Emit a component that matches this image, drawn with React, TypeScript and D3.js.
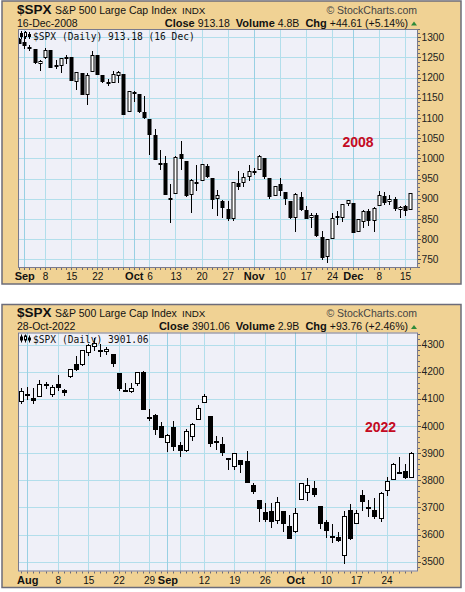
import React from 'react';
import * as d3 from 'd3';

// ---------- 2008 data (Aug 29 .. Dec 16, 2008) ----------
const dates2008 = [
  '2008-08-29','2008-09-02','2008-09-03','2008-09-04','2008-09-05','2008-09-08','2008-09-09','2008-09-10','2008-09-11','2008-09-12',
  '2008-09-15','2008-09-16','2008-09-17','2008-09-18','2008-09-19','2008-09-22','2008-09-23','2008-09-24','2008-09-25','2008-09-26',
  '2008-09-29','2008-09-30','2008-10-01','2008-10-02','2008-10-03','2008-10-06','2008-10-07','2008-10-08','2008-10-09','2008-10-10',
  '2008-10-13','2008-10-14','2008-10-15','2008-10-16','2008-10-17','2008-10-20','2008-10-21','2008-10-22','2008-10-23','2008-10-24',
  '2008-10-27','2008-10-28','2008-10-29','2008-10-30','2008-10-31','2008-11-03','2008-11-04','2008-11-05','2008-11-06','2008-11-07',
  '2008-11-10','2008-11-11','2008-11-12','2008-11-13','2008-11-14','2008-11-17','2008-11-18','2008-11-19','2008-11-20','2008-11-21',
  '2008-11-24','2008-11-25','2008-11-26','2008-11-28','2008-12-01','2008-12-02','2008-12-03','2008-12-04','2008-12-05','2008-12-08',
  '2008-12-09','2008-12-10','2008-12-11','2008-12-12','2008-12-15','2008-12-16'];
const open2008 = [
  1296.49,1287.83,1276.61,1271.80,1233.21,1249.50,1267.98,1227.50,1229.04,1245.88,
  1250.92,1188.31,1210.34,1157.08,1213.11,1255.37,1207.61,1188.79,1185.87,1204.47,
  1209.07,1113.78,1164.17,1160.64,1115.16,1097.56,1057.60,988.91,988.42,902.31,
  912.75,1009.97,994.60,909.53,942.29,943.51,980.40,951.67,899.08,895.22,
  874.28,848.92,939.51,939.38,953.11,968.67,971.31,1001.84,952.40,907.44,
  936.75,917.15,893.39,853.13,904.36,873.23,852.34,859.03,805.87,755.84,
  801.20,853.40,852.90,886.89,888.61,817.94,843.60,869.75,844.43,882.71,
  906.48,892.17,898.35,871.79,881.07,871.53];
const high2008 = [
  1297.59,1303.04,1280.60,1271.80,1244.94,1274.42,1268.66,1243.90,1249.98,1255.09,
  1250.92,1214.84,1210.34,1211.14,1265.12,1255.37,1207.61,1197.41,1215.77,1215.77,
  1209.07,1168.03,1167.03,1160.64,1153.82,1097.56,1072.91,1021.06,1005.25,936.36,
  1006.93,1044.31,994.60,947.71,984.64,985.40,985.44,951.67,922.83,896.30,
  893.78,940.51,969.97,963.23,984.38,975.57,1007.51,1001.84,952.40,931.46,
  951.95,917.15,893.39,913.01,916.88,882.29,865.90,864.57,820.52,801.20,
  865.60,868.94,887.68,896.25,888.61,850.54,873.12,875.60,879.42,918.57,
  916.26,908.27,904.63,883.24,884.63,914.66];
const low2008 = [
  1282.74,1272.20,1265.59,1232.83,1217.23,1247.12,1224.51,1221.60,1211.54,1233.81,
  1192.70,1169.28,1155.88,1133.50,1213.11,1205.61,1187.60,1179.79,1185.87,1187.54,
  1106.39,1113.78,1140.77,1111.43,1098.14,1007.97,996.23,970.97,909.19,839.80,
  912.75,972.07,903.99,865.83,918.74,943.51,952.47,875.81,858.44,852.85,
  845.75,845.27,922.26,928.50,944.59,958.82,971.31,949.86,899.73,906.90,
  907.47,884.90,850.48,818.69,869.88,848.98,826.84,806.18,747.78,741.02,
  801.20,834.99,841.37,881.21,815.69,817.94,827.60,833.60,818.41,882.71,
  885.38,885.45,868.73,851.35,857.72,871.53];
const close2008 = [
  1282.83,1277.58,1274.98,1236.83,1242.31,1267.79,1224.51,1232.04,1249.05,1251.70,
  1192.70,1213.60,1156.39,1206.51,1255.08,1207.09,1188.22,1185.87,1209.18,1213.27,
  1106.39,1166.36,1161.06,1114.28,1099.23,1056.89,996.23,984.94,909.92,899.22,
  1003.35,998.01,907.84,946.43,940.55,985.40,955.05,896.78,908.11,876.77,
  848.92,940.51,930.09,954.09,968.75,966.30,1005.75,952.77,904.88,930.99,
  919.21,898.95,852.30,911.29,873.29,850.75,859.12,806.58,752.44,800.03,
  851.81,857.39,887.68,896.24,816.21,848.81,870.74,845.22,876.07,909.70,
  888.67,899.24,873.59,879.73,868.57,913.18];
const yTicks2008 = [750, 800, 850, 900, 950, 1000, 1050, 1100, 1150, 1200, 1250, 1300];
const xTicks2008: [string, string][] = [
  ['2008-09-02', 'Sep'], ['2008-09-08', '8'], ['2008-09-15', '15'], ['2008-09-22', '22'],
  ['2008-10-01', 'Oct'], ['2008-10-06', '6'], ['2008-10-13', '13'], ['2008-10-20', '20'], ['2008-10-27', '27'],
  ['2008-11-03', 'Nov'], ['2008-11-10', '10'], ['2008-11-17', '17'], ['2008-11-24', '24'],
  ['2008-12-01', 'Dec'], ['2008-12-08', '8'], ['2008-12-15', '15']];

// ---------- 2022 data (Jul 29 .. Oct 28, 2022) ----------
const dates2022 = [
  '2022-07-29','2022-08-01','2022-08-02','2022-08-03','2022-08-04','2022-08-05','2022-08-08','2022-08-09','2022-08-10','2022-08-11',
  '2022-08-12','2022-08-15','2022-08-16','2022-08-17','2022-08-18','2022-08-19','2022-08-22','2022-08-23','2022-08-24','2022-08-25',
  '2022-08-26','2022-08-29','2022-08-30','2022-08-31','2022-09-01','2022-09-02','2022-09-06','2022-09-07','2022-09-08','2022-09-09',
  '2022-09-12','2022-09-13','2022-09-14','2022-09-15','2022-09-16','2022-09-19','2022-09-20','2022-09-21','2022-09-22','2022-09-23',
  '2022-09-26','2022-09-27','2022-09-28','2022-09-29','2022-09-30','2022-10-03','2022-10-04','2022-10-05','2022-10-06','2022-10-07',
  '2022-10-10','2022-10-11','2022-10-12','2022-10-13','2022-10-14','2022-10-17','2022-10-18','2022-10-19','2022-10-20','2022-10-21',
  '2022-10-24','2022-10-25','2022-10-26','2022-10-27','2022-10-28'];
const open2022 = [
  4087.33,4112.38,4104.21,4107.96,4154.85,4115.87,4155.93,4133.11,4181.02,4227.40,
  4225.02,4269.37,4290.46,4280.40,4273.13,4266.31,4195.08,4133.09,4126.55,4153.26,
  4198.74,4034.58,4041.25,4000.67,3936.73,3994.66,3930.89,3909.43,3959.94,4022.94,
  4083.67,4037.12,3940.73,3932.41,3880.95,3849.91,3875.23,3871.40,3782.36,3727.14,
  3682.72,3686.44,3651.94,3687.01,3633.48,3609.78,3726.46,3753.25,3771.97,3706.74,
  3647.51,3595.86,3590.83,3520.37,3690.41,3638.65,3746.26,3703.11,3689.05,3657.10,
  3762.01,3799.44,3825.97,3834.69,3808.26];
const high2022 = [
  4140.15,4144.95,4140.47,4167.66,4161.29,4151.58,4186.62,4137.30,4211.03,4257.91,
  4280.47,4301.79,4325.28,4302.18,4292.53,4266.31,4195.08,4159.77,4156.56,4200.54,
  4203.04,4062.99,4044.98,4015.37,3970.23,4018.43,3942.55,3987.89,4010.50,4076.81,
  4119.28,4037.12,3961.94,3959.14,3880.95,3900.45,3876.01,3907.07,3790.20,3727.14,
  3715.67,3717.53,3736.74,3687.01,3671.44,3698.35,3791.92,3806.91,3797.93,3706.74,
  3652.17,3640.66,3608.34,3685.41,3712.00,3689.73,3762.79,3728.58,3736.00,3757.89,
  3810.74,3862.85,3886.15,3859.95,3905.42];
const low2022 = [
  4079.22,4096.02,4079.81,4107.96,4135.42,4107.31,4128.97,4112.09,4177.26,4201.41,
  4219.78,4256.90,4277.77,4253.08,4261.98,4218.70,4129.86,4124.03,4119.97,4147.59,
  4057.66,4017.42,3965.21,3954.53,3903.65,3906.21,3886.75,3906.03,3944.81,4022.94,
  4083.67,3921.58,3912.90,3888.28,3837.08,3838.50,3827.54,3789.49,3749.45,3647.47,
  3644.76,3623.29,3640.61,3610.40,3584.13,3604.93,3726.46,3722.66,3739.22,3620.73,
  3588.10,3568.45,3573.86,3491.58,3579.68,3638.65,3686.53,3666.51,3656.44,3647.42,
  3741.65,3799.44,3824.07,3803.79,3808.26];
const close2022 = [
  4130.29,4118.63,4091.19,4155.17,4151.94,4145.19,4140.06,4122.47,4210.24,4207.27,
  4280.15,4297.14,4305.20,4274.04,4283.74,4228.48,4137.99,4128.73,4140.77,4199.12,
  4057.66,4030.61,3986.16,3955.00,3966.85,3924.26,3908.19,3979.87,4006.18,4067.36,
  4110.41,3932.69,3946.01,3901.35,3873.33,3899.89,3855.93,3789.93,3757.99,3693.23,
  3655.04,3647.29,3719.04,3640.47,3585.62,3678.43,3790.93,3783.28,3744.52,3639.66,
  3612.39,3588.84,3577.03,3669.91,3583.07,3677.95,3719.98,3695.16,3665.78,3752.75,
  3797.34,3859.11,3830.60,3807.30,3901.06];
const yTicks2022 = [3500, 3600, 3700, 3800, 3900, 4000, 4100, 4200, 4300];
const xTicks2022: [string, string][] = [
  ['2022-08-01', 'Aug'], ['2022-08-08', '8'], ['2022-08-15', '15'], ['2022-08-22', '22'], ['2022-08-29', '29'],
  ['2022-09-01', 'Sep'], ['2022-09-12', '12'], ['2022-09-19', '19'], ['2022-09-26', '26'],
  ['2022-10-03', 'Oct'], ['2022-10-10', '10'], ['2022-10-17', '17'], ['2022-10-24', '24']];

const SANS = '"Liberation Sans", Arial, sans-serif';
const MONO = '"DejaVu Sans Mono", monospace';
const BEIGE = '#f0d294';
const PLOT_BG = '#eff0f8';
const GRID = '#b2deeb';
const GRID_MONTH = '#98d0e3';

type PanelProps = {
  id: string;
  py: number;
  dates: string[];
  open: number[];
  high: number[];
  low: number[];
  close: number[];
  yTicks: number[];
  yMinor: number;
  xTicks: [string, string][];
  xDomain: [number, number];
  yDomain: [number, number];
  bodyW: number;
  dateStr: string;
  closeStr: string;
  volStr: string;
  chgStr: string;
  plotTitle: string;
  year: string;
  yearX: number;
  yearY: number;
};

function Panel(p: PanelProps) {
  const L = 18, R = 418;
  const T = p.py + 28, B = p.py + 267;
  const x = d3.scaleLinear().domain(p.xDomain).range([L, R]);
  const y = d3.scaleLinear().domain(p.yDomain).range([B, T]);
  const parse = (s: string) => new Date(s + 'T00:00:00Z');
  const ds = p.dates.map(parse);

  const weekLines: number[] = [];
  const monthLines: number[] = [];
  ds.forEach((d, i) => {
    if (i === 0) return;
    const prev = ds[i - 1];
    if (d.getUTCMonth() !== prev.getUTCMonth()) monthLines.push(i);
    else if (d.getUTCDay() <= prev.getUTCDay() || (d.getTime() - prev.getTime()) > 3 * 864e5) weekLines.push(i);
  });
  const idxOf = (s: string) => p.dates.indexOf(s);
  const minorY = d3.range(Math.ceil(p.yDomain[0] / p.yMinor) * p.yMinor, p.yDomain[1], p.yMinor);
  const px = (i: number) => Math.round(x(i));

  return (
    <g>
      <rect x={2} y={p.py} width={459} height={283} fill={BEIGE} stroke="#6c6c7a" strokeWidth={1.5} />
      {/* header */}
      <text x={17} y={p.py + 12.5} fontFamily={SANS} fontSize={13.5} fontWeight="bold" fill="#111">$SPX</text>
      <text x={55} y={p.py + 12.5} fontFamily={SANS} fontSize={10.5} fill="#111">S&amp;P 500 Large Cap Index</text>
      <text x={182} y={p.py + 12.5} fontFamily={SANS} fontSize={9.8} fill="#111">INDX</text>
      <text x={417} y={p.py + 12.5} fontFamily={SANS} fontSize={10.5} fill="#444" textAnchor="end">© StockCharts.com</text>
      <text x={17} y={p.py + 25.5} fontFamily={SANS} fontSize={10.5} fill="#111">{p.dateStr}</text>
      <text x={408} y={p.py + 25.5} fontFamily={SANS} fontSize={10.5} fill="#111" textAnchor="end">
        <tspan fontWeight="bold" fontSize={11}>Close</tspan>
        <tspan dx={3}>{p.closeStr}</tspan>
        <tspan dx={6} fontWeight="bold" fontSize={11}>Volume</tspan>
        <tspan dx={3}>{p.volStr}</tspan>
        <tspan dx={6} fontWeight="bold" fontSize={11}>Chg</tspan>
        <tspan dx={3}>{p.chgStr}</tspan>
      </text>
      <path d={`M411,${p.py + 24.5} L417,${p.py + 24.5} L414,${p.py + 20.5} Z`} fill="#2e8b3a" />

      {/* plot */}
      <rect x={L} y={T} width={R - L} height={B - T} fill={PLOT_BG} />
      <clipPath id={`clip-${p.id}`}><rect x={L} y={T} width={R - L} height={B - T} /></clipPath>
      {p.yTicks.map(v => (
        <line key={'h' + v} x1={L} x2={R} y1={Math.round(y(v)) + 0.5} y2={Math.round(y(v)) + 0.5} stroke={GRID} strokeWidth={1} />
      ))}
      {weekLines.map(i => (
        <line key={'w' + i} x1={px(i) + 0.5} x2={px(i) + 0.5} y1={T} y2={B} stroke={GRID} strokeWidth={1} />
      ))}
      {monthLines.map(i => (
        <line key={'m' + i} x1={px(i) + 0.5} x2={px(i) + 0.5} y1={T} y2={B} stroke={GRID_MONTH} strokeWidth={1} />
      ))}

      {/* candles */}
      <g clipPath={`url(#clip-${p.id})`}>
        {p.dates.map((_, i) => {
          const cx = px(i) + 0.5;
          const o = p.open[i], c = p.close[i];
          const yTop = Math.round(y(Math.max(o, c)));
          const yBot = Math.round(y(Math.min(o, c)));
          const hollow = c > o;
          const half = p.bodyW / 2;
          return (
            <g key={'c' + i}>
              <line x1={cx} x2={cx} y1={Math.round(y(p.high[i]))} y2={Math.round(y(p.low[i]))} stroke="#000" strokeWidth={1} />
              {hollow ? (
                <rect x={cx - half + 0.5} y={yTop + 0.5} width={p.bodyW - 1} height={Math.max(1, yBot - yTop - 1)} fill="#fff" stroke="#000" strokeWidth={1} />
              ) : (
                <rect x={cx - half} y={yTop} width={p.bodyW} height={Math.max(2, yBot - yTop)} fill="#000" />
              )}
            </g>
          );
        })}
      </g>

      {/* plot title */}
      <g fill="#000" stroke="#000" strokeWidth={1}>
        <line x1={21.5} x2={21.5} y1={T + 2} y2={T + 10} />
        <rect x={20} y={T + 4} width={3} height={4} stroke="none" />
        <line x1={25.5} x2={25.5} y1={T + 2} y2={T + 10} />
        <rect x={24.5} y={T + 3.5} width={2} height={4} fill="#fff" />
        <line x1={29.5} x2={29.5} y1={T + 3} y2={T + 10} />
        <rect x={28} y={T + 5} width={3} height={3} stroke="none" />
      </g>
      <text x={33} y={T + 10.5} fontFamily={MONO} fontSize={9.6} fill="#111">{p.plotTitle}</text>

      <text x={p.yearX} y={p.yearY} fontFamily={SANS} fontSize={14} fontWeight="bold" fill="#c40a22" textAnchor="middle">{p.year}</text>

      <rect x={L + 0.5} y={T + 0.5} width={R - L - 1} height={B - T - 1} fill="none" stroke="#7a7a8c" strokeWidth={1} />

      {/* right axis */}
      {minorY.map(v => (
        <line key={'my' + v} x1={R} x2={R + 2} y1={Math.round(y(v)) + 0.5} y2={Math.round(y(v)) + 0.5} stroke="#6a6a7a" strokeWidth={1} />
      ))}
      {p.yTicks.map(v => (
        <g key={'yt' + v}>
          <line x1={R} x2={R + 3} y1={Math.round(y(v)) + 0.5} y2={Math.round(y(v)) + 0.5} stroke="#555" strokeWidth={1} />
          <text x={421.5} y={y(v) + 3.6} fontFamily={SANS} fontSize={10.2} fill="#222">{v}</text>
        </g>
      ))}

      {/* bottom axis */}
      {p.dates.map((_, i) => (
        x(i) > L && x(i) < R ? <line key={'mx' + i} x1={px(i) + 0.5} x2={px(i) + 0.5} y1={B} y2={B + 2} stroke="#6a6a7a" strokeWidth={1} /> : null
      ))}
      {p.xTicks.map(([d, lab]) => {
        const i = idxOf(d);
        const isMonth = isNaN(Number(lab));
        return (
          <text key={'xt' + d} x={x(i) + 0.5} y={B + 12} textAnchor="middle" fontFamily={SANS}
            fontSize={isMonth ? 11 : 10} fontWeight={isMonth ? 'bold' : 'normal'} fill="#111">{lab}</text>
        );
      })}
    </g>
  );
}

export default function App() {
  return (
    <svg width={465} height={592} style={{ position: 'absolute', left: 0, top: 0, display: 'block' }}>
      <rect x={0} y={0} width={465} height={592} fill="#fff" />
      <Panel id="a" py={1} dates={dates2008} open={open2008} high={high2008} low={low2008} close={close2008}
        yTicks={yTicks2008} yMinor={10} xTicks={xTicks2008} xDomain={[-0.2, 76.5]} yDomain={[728.4, 1320.6]} bodyW={4}
        dateStr="16-Dec-2008" closeStr="913.18" volStr="4.8B" chgStr="+44.61 (+5.14%)"
        plotTitle="$SPX (Daily) 913.18 (16 Dec)" year="2008" yearX={358} yearY={146.5} />
      <Panel id="b" py={304.5} dates={dates2022} open={open2022} high={high2022} low={low2022} close={close2022}
        yTicks={yTicks2022} yMinor={20} xTicks={xTicks2022} xDomain={[-0.53, 65.15]} yDomain={[3464.3, 4344.2]} bodyW={5}
        dateStr="28-Oct-2022" closeStr="3901.06" volStr="2.9B" chgStr="+93.76 (+2.46%)"
        plotTitle="$SPX (Daily) 3901.06" year="2022" yearX={380.5} yearY={431.5} />
    </svg>
  );
}
